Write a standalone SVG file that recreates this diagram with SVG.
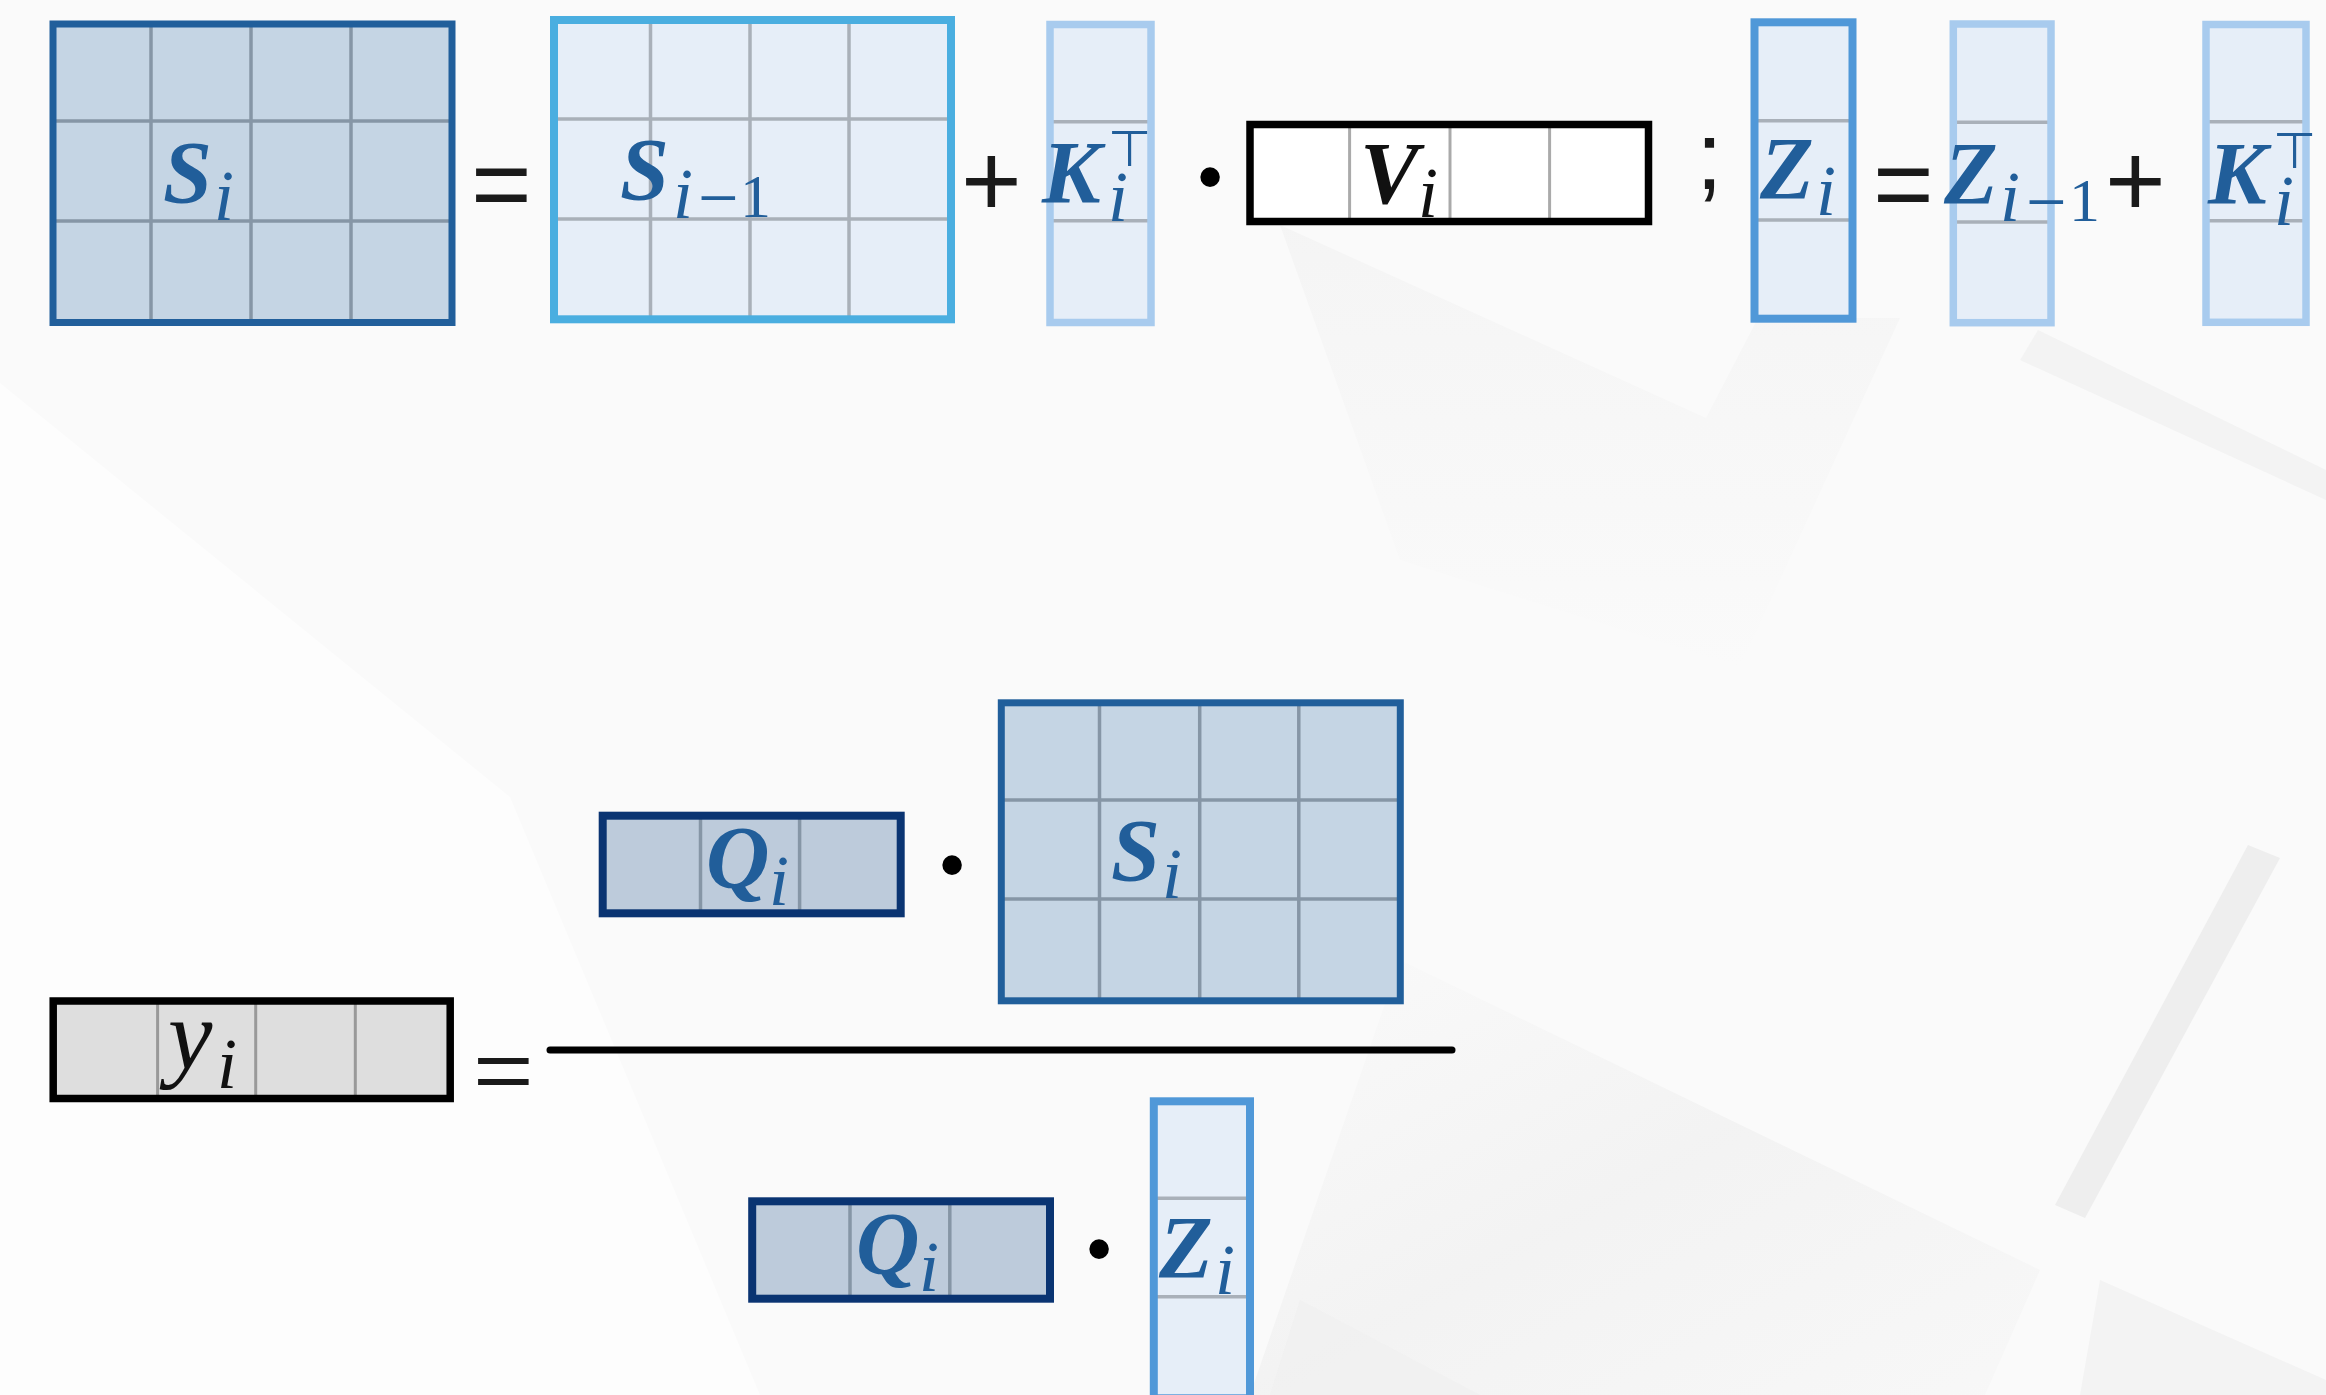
<svg xmlns="http://www.w3.org/2000/svg" width="2326" height="1395" viewBox="0 0 2326 1395">
<style>
.mv{font-family:"Liberation Serif","Times New Roman",serif;font-style:italic;font-weight:bold;font-size:88px}
.mr{font-family:"Liberation Serif","Times New Roman",serif;font-style:italic;font-weight:normal;font-size:100px}
.sub{font-family:"Liberation Serif","Times New Roman",serif;font-style:italic;font-weight:normal;font-size:72px}
.num{font-family:"Liberation Serif","Times New Roman",serif;font-style:normal;font-weight:normal;font-size:62px}
.mn{font-family:"Liberation Serif","Times New Roman",serif;font-style:normal;font-weight:normal;font-size:72px}
.tp{font-family:"DejaVu Sans",sans-serif;font-style:normal;font-weight:normal;font-size:50px}
.op{font-family:"Liberation Sans",Arial,sans-serif;font-size:104px;fill:#1a1a1a}
.dot{font-family:"Liberation Sans",Arial,sans-serif;font-size:72px;fill:#000;text-anchor:middle}
.blue{fill:#215e9a}
.ink{fill:#111}
.f-dark{fill:#c5d5e4}
.f-light{fill:#e6eef8}
.f-navy{fill:#bdcbdb}
.f-white{fill:#ffffff}
.f-gray{fill:#dedede}
.s-dark{fill:none;stroke:#215f9b;stroke-width:7}
.s-cyan{fill:none;stroke:#4aaee0;stroke-width:8}
.s-pale{fill:none;stroke:#a8cbee;stroke-width:7.5}
.s-mid{fill:none;stroke:#5098d8;stroke-width:8}
.s-navy{fill:none;stroke:#0a3472;stroke-width:8}
.s-black{fill:none;stroke:#000;stroke-width:7.5}
.g-dark{stroke:#8696a6;stroke-width:3.5}
.g-light{stroke:#a9b0b9;stroke-width:3.5}
.g-v{stroke:#aaaaaa;stroke-width:3}
.g-y{stroke:#999999;stroke-width:3}
.bar{stroke:#000;stroke-width:7;stroke-linecap:round}
</style>
<defs>
<linearGradient id="fadeA" x1="0" y1="0" x2="1" y2="1">
<stop offset="0" stop-color="#f2f2f2" stop-opacity="0"/>
<stop offset="0.5" stop-color="#f2f2f2" stop-opacity="0.9"/>
<stop offset="1" stop-color="#f2f2f2" stop-opacity="0.3"/>
</linearGradient>
<linearGradient id="fadeB" x1="0" y1="0" x2="0" y2="1">
<stop offset="0" stop-color="#f4f4f4" stop-opacity="0.9"/>
<stop offset="1" stop-color="#f4f4f4" stop-opacity="0"/>
</linearGradient>
</defs>
<g id="background">
<rect x="0" y="0" width="2326" height="1395" fill="#fafafa"/>
<polygon points="0,383 510,797 760,1395 0,1395" fill="#fdfdfd"/>
<polygon points="1280,225 1706,418 1758,318 1900,318 1740,667 1400,560" fill="url(#fadeB)"/>
<polygon points="2038,330 2326,470 2326,500 2020,360" fill="#f3f3f3"/>
<polygon points="1400,960 2040,1270 1985,1395 1250,1395" fill="url(#fadeA)"/>
<polygon points="1300,1300 1480,1395 1270,1395" fill="#f0f0f0" opacity="0.7"/>
<polygon points="2248,845 2280,858 2085,1218 2055,1205" fill="#eeeeee"/>
<polygon points="2100,1280 2326,1380 2326,1395 2080,1395" fill="#f3f3f3"/>
</g>
<g id="S_i">
<rect class="f-dark" x="53" y="24" width="399" height="298.5"/>
<line class="g-dark" x1="151" y1="24" x2="151" y2="322.5"/>
<line class="g-dark" x1="251" y1="24" x2="251" y2="322.5"/>
<line class="g-dark" x1="351" y1="24" x2="351" y2="322.5"/>
<line class="g-dark" x1="53" y1="121" x2="452" y2="121"/>
<line class="g-dark" x1="53" y1="221" x2="452" y2="221"/>
<rect class="s-dark" x="53" y="24" width="399" height="298.5"/>
<text class="blue"><tspan class="mv" x="163" y="202">S</tspan><tspan class="sub" x="214" y="220">i</tspan></text>
</g>
<g id="S_i-1">
<rect class="f-light" x="554" y="20" width="397" height="299.3"/>
<line class="g-light" x1="650.5" y1="20" x2="650.5" y2="319.3"/>
<line class="g-light" x1="750" y1="20" x2="750" y2="319.3"/>
<line class="g-light" x1="849" y1="20" x2="849" y2="319.3"/>
<line class="g-light" x1="554" y1="119" x2="951" y2="119"/>
<line class="g-light" x1="554" y1="219" x2="951" y2="219"/>
<rect class="s-cyan" x="554" y="20" width="397" height="299.3"/>
<text class="blue"><tspan class="mv" x="620" y="199">S</tspan><tspan class="sub" x="673" y="218">i</tspan><tspan class="mn" x="698" y="222">−</tspan><tspan class="num" x="740" y="217">1</tspan></text>
</g>
<g id="K_i_T">
<rect class="f-light" x="1050" y="24.5" width="101" height="298"/>
<line class="g-light" x1="1050" y1="121.7" x2="1151" y2="121.7"/>
<line class="g-light" x1="1050" y1="220.7" x2="1151" y2="220.7"/>
<rect class="s-pale" x="1050" y="24.5" width="101" height="298"/>
<text class="blue"><tspan class="mv" x="1042" y="201.5">K</tspan><tspan class="sub" x="1108" y="221">i</tspan><tspan class="tp" x="1108" y="166">⊤</tspan></text>
</g>
<g id="V_i">
<rect class="f-white" x="1250" y="124.5" width="398.5" height="97"/>
<line class="g-v" x1="1349.6" y1="124.5" x2="1349.6" y2="221.5"/>
<line class="g-v" x1="1450" y1="124.5" x2="1450" y2="221.5"/>
<line class="g-v" x1="1549.6" y1="124.5" x2="1549.6" y2="221.5"/>
<rect class="s-black" x="1250" y="124.5" width="398.5" height="97"/>
<text class="ink"><tspan class="mv" x="1360" y="202.5">V</tspan><tspan class="sub" x="1418" y="216.5">i</tspan></text>
</g>
<g id="Z_i">
<rect class="f-light" x="1754.5" y="22.3" width="98" height="296.4"/>
<line class="g-light" x1="1754.5" y1="120.7" x2="1852.5" y2="120.7"/>
<line class="g-light" x1="1754.5" y1="220" x2="1852.5" y2="220"/>
<rect class="s-mid" x="1754.5" y="22.3" width="98" height="296.4"/>
<text class="blue"><tspan class="mv" x="1760" y="198.3">Z</tspan><tspan class="sub" x="1816" y="215">i</tspan></text>
</g>
<g id="Z_i-1">
<rect class="f-light" x="1953.3" y="24" width="97.7" height="298.7"/>
<line class="g-light" x1="1953.3" y1="122.3" x2="2051" y2="122.3"/>
<line class="g-light" x1="1953.3" y1="222" x2="2051" y2="222"/>
<rect class="s-pale" x="1953.3" y="24" width="97.7" height="298.7"/>
<text class="blue"><tspan class="mv" x="1944" y="203">Z</tspan><tspan class="sub" x="2000" y="220.5">i</tspan><tspan class="mn" x="2026" y="226">−</tspan><tspan class="num" x="2069" y="220.5">1</tspan></text>
</g>
<g id="K_i_T_2">
<rect class="f-light" x="2206" y="24.5" width="100" height="297.8"/>
<line class="g-light" x1="2206" y1="121.7" x2="2306" y2="121.7"/>
<line class="g-light" x1="2206" y1="220.7" x2="2306" y2="220.7"/>
<rect class="s-pale" x="2206" y="24.5" width="100" height="297.8"/>
<text class="blue"><tspan class="mv" x="2208" y="203">K</tspan><tspan class="sub" x="2274" y="224.5">i</tspan><tspan class="tp" x="2273" y="168">⊤</tspan></text>
</g>
<g id="Q_i_num">
<rect class="f-navy" x="602.7" y="815.7" width="298" height="97.6"/>
<line class="g-dark" x1="700.5" y1="815.7" x2="700.5" y2="913.3"/>
<line class="g-dark" x1="799.6" y1="815.7" x2="799.6" y2="913.3"/>
<rect class="s-navy" x="602.7" y="815.7" width="298" height="97.6"/>
<text class="blue"><tspan class="mv" x="706" y="887">Q</tspan><tspan class="sub" x="769" y="905">i</tspan></text>
</g>
<g id="S_i_num">
<rect class="f-dark" x="1001.3" y="702.8" width="399" height="298"/>
<line class="g-dark" x1="1099.5" y1="702.8" x2="1099.5" y2="1000.8"/>
<line class="g-dark" x1="1199.7" y1="702.8" x2="1199.7" y2="1000.8"/>
<line class="g-dark" x1="1298.8" y1="702.8" x2="1298.8" y2="1000.8"/>
<line class="g-dark" x1="1001.3" y1="800" x2="1400.3" y2="800"/>
<line class="g-dark" x1="1001.3" y1="899" x2="1400.3" y2="899"/>
<rect class="s-dark" x="1001.3" y="702.8" width="399" height="298"/>
<text class="blue"><tspan class="mv" x="1111" y="880">S</tspan><tspan class="sub" x="1162" y="898">i</tspan></text>
</g>
<g id="y_i">
<rect class="f-gray" x="53.2" y="1001" width="397" height="97.5"/>
<line class="g-y" x1="157.6" y1="1001" x2="157.6" y2="1098.5"/>
<line class="g-y" x1="255.7" y1="1001" x2="255.7" y2="1098.5"/>
<line class="g-y" x1="355.3" y1="1001" x2="355.3" y2="1098.5"/>
<rect class="s-black" x="53.2" y="1001" width="397" height="97.5"/>
<text class="ink"><tspan class="mr" x="168" y="1069">y</tspan><tspan class="sub" x="217" y="1088">i</tspan></text>
</g>
<g id="Q_i_den">
<rect class="f-navy" x="752.2" y="1201.3" width="297.8" height="97.4"/>
<line class="g-dark" x1="850" y1="1201.3" x2="850" y2="1298.7"/>
<line class="g-dark" x1="949.8" y1="1201.3" x2="949.8" y2="1298.7"/>
<rect class="s-navy" x="752.2" y="1201.3" width="297.8" height="97.4"/>
<text class="blue"><tspan class="mv" x="856" y="1273">Q</tspan><tspan class="sub" x="919" y="1291">i</tspan></text>
</g>
<g id="Z_i_den">
<rect class="f-light" x="1153.8" y="1101.3" width="96.2" height="297"/>
<line class="g-light" x1="1153.8" y1="1198.3" x2="1250" y2="1198.3"/>
<line class="g-light" x1="1153.8" y1="1296.7" x2="1250" y2="1296.7"/>
<rect class="s-mid" x="1153.8" y="1101.3" width="96.2" height="297"/>
<text class="blue"><tspan class="mv" x="1159" y="1277">Z</tspan><tspan class="sub" x="1215" y="1294">i</tspan></text>
</g>
<g id="connectors">
<line class="bar" x1="550" y1="1050" x2="1452" y2="1050"/>
<text class="op" x="471" y="219">=</text>
<text class="op" x="961" y="216">+</text>
<text class="dot" x="1210" y="201">•</text>
<text class="op" x="1696" y="189" style="font-size:96px">;</text>
<text class="op" x="1873" y="219">=</text>
<text class="op" x="2105" y="216">+</text>
<text class="dot" x="952" y="889">•</text>
<text class="op" transform="translate(473,1099) scale(1,0.8)" x="0" y="0">=</text>
<text class="dot" x="1099" y="1273">•</text>
</g>
</svg>
